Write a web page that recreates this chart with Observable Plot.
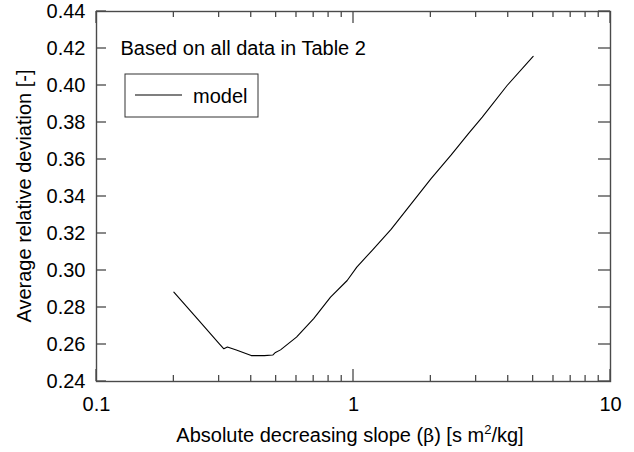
<!DOCTYPE html>
<html>
<head>
<meta charset="utf-8">
<script src="https://cdn.jsdelivr.net/npm/d3@7"></script>
<script src="https://cdn.jsdelivr.net/npm/@observablehq/plot@0.6"></script>
<style>
  html, body { margin: 0; padding: 0; background: #fff; }
</style>
</head>
<body>
<div id="chart"></div>
<script>
// Data
const beta = [0.20, 0.25, 0.30, 0.313, 0.323, 0.35, 0.40, 0.45, 0.485, 0.497, 0.52, 0.60, 0.70, 0.814, 0.945, 1.03, 1.18, 1.40, 1.618, 2.0, 2.4, 2.8, 3.17, 3.96, 5.0];
const deviation = [0.2883, 0.2730, 0.2605, 0.2577, 0.2586, 0.2570, 0.2540, 0.2540, 0.2543, 0.2557, 0.2571, 0.2640, 0.2740, 0.2856, 0.2946, 0.3018, 0.3108, 0.3222, 0.3333, 0.3495, 0.3625, 0.3740, 0.3829, 0.4000, 0.4157];

const xMajorTicks = [0.1, 1, 10];
const xMinorTicks = [0.2, 0.3, 0.4, 0.5, 0.6, 0.7, 0.8, 0.9, 2, 3, 4, 5, 6, 7, 8, 9];
const yTicks = [0.24, 0.26, 0.28, 0.30, 0.32, 0.34, 0.36, 0.38, 0.40, 0.42, 0.44];

const xLabelText = "Absolute decreasing slope";
const yLabelText = "Average relative deviation [-]";
const annotation = "Based on all data in Table 2";
const seriesName = "model";

const rows = beta.map((b, i) => ({beta: b, dev: deviation[i]}));

const W = 634, H = 452, mL = 96, mR = 24, mT = 11, mB = 71;
const axisColor = "#4a4a4a";
const font = "'Liberation Sans', Arial, Helvetica, sans-serif";

const chart = Plot.plot({
  width: W,
  height: H,
  marginLeft: mL,
  marginRight: mR,
  marginTop: mT,
  marginBottom: mB,
  style: {fontFamily: font, fontSize: "20px", background: "#fff", color: "#000"},
  x: {type: "log", domain: [0.1, 10]},
  y: {domain: [0.24, 0.44]},
  marks: [
    Plot.axisX({anchor: "bottom", ticks: xMajorTicks, tickSize: 0, tickPadding: 15, tickFormat: d => String(d), fill: "#000", label: null}),
    Plot.axisY({anchor: "left", ticks: yTicks, tickSize: 0, tickPadding: 11, tickFormat: d3.format(".2f"), fill: "#000", label: null}),
    Plot.frame({stroke: axisColor, strokeWidth: 1.4}),
    Plot.line(rows, {x: "beta", y: "dev", stroke: "#000", strokeWidth: 1.1}),
    Plot.text([annotation], {frameAnchor: "top-left", dx: 24, dy: 29, text: d => d, textAnchor: "start", fontSize: 20, fill: "#000"})
  ]
});

document.getElementById("chart").appendChild(chart);

const svg = d3.select(chart);
const sx = chart.scale("x"), sy = chart.scale("y");
const fTop = mT, fBottom = H - mB, fLeft = mL, fRight = W - mR;

// inward ticks, positioned through Plot's own scales
const tg = svg.append("g").attr("stroke", axisColor).attr("stroke-width", 1.3);
function drawXTicks(values, len) {
  for (const v of values) {
    const px = sx.apply(v);
    tg.append("line").attr("x1", px).attr("x2", px).attr("y1", fBottom).attr("y2", fBottom - len);
    tg.append("line").attr("x1", px).attr("x2", px).attr("y1", fTop).attr("y2", fTop + len);
  }
}
drawXTicks(xMajorTicks, 12);
drawXTicks(xMinorTicks, 6);
for (const v of yTicks) {
  const py = sy.apply(v);
  tg.append("line").attr("x1", fLeft).attr("x2", fLeft + 10).attr("y1", py).attr("y2", py);
  tg.append("line").attr("x1", fRight).attr("x2", fRight - 12).attr("y1", py).attr("y2", py);
}

// x axis label with serif beta and superscript
const xl = svg.append("text")
  .attr("x", 350).attr("y", 442)
  .attr("text-anchor", "middle")
  .attr("font-family", font).attr("font-size", 20).attr("fill", "#000");
xl.append("tspan").text(xLabelText + " (");
xl.append("tspan").attr("font-family", "'DejaVu Serif', 'Liberation Serif', serif").attr("font-size", 19).text("β");
xl.append("tspan").text(") [s m");
xl.append("tspan").attr("font-size", 13).attr("dy", -8).text("2");
xl.append("tspan").attr("dy", 8).text("/kg]");

// y axis label
svg.append("text")
  .attr("transform", "translate(31,196) rotate(-90)")
  .attr("text-anchor", "middle")
  .attr("font-family", font).attr("font-size", 20).attr("fill", "#000")
  .text(yLabelText);

// legend box
const lg = svg.append("g");
lg.append("rect").attr("x", 125).attr("y", 74).attr("width", 133).attr("height", 43)
  .attr("fill", "#fff").attr("stroke", "#333").attr("stroke-width", 1);
lg.append("line").attr("x1", 135).attr("x2", 182).attr("y1", 95).attr("y2", 95)
  .attr("stroke", "#000").attr("stroke-width", 1.2);
lg.append("text").attr("x", 193).attr("y", 103)
  .attr("text-anchor", "start")
  .attr("font-family", font).attr("font-size", 20).attr("fill", "#000").text(seriesName);
</script>
</body>
</html>
